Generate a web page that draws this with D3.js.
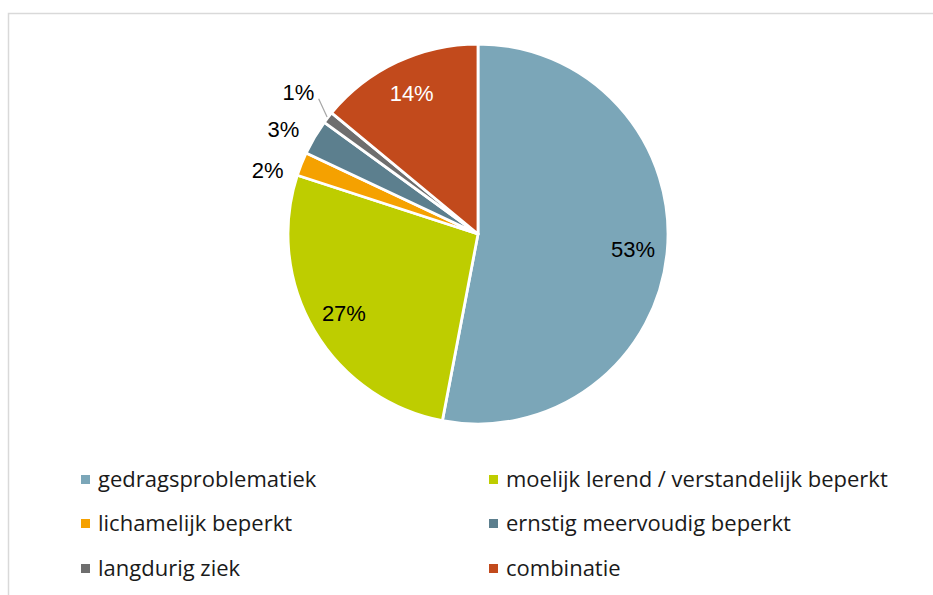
<!DOCTYPE html>
<html>
<head>
<meta charset="utf-8">
<script src="https://cdn.jsdelivr.net/npm/d3@7"></script>
<style>
  html, body { margin: 0; padding: 0; background: #fff; }
  svg { display: block; }
</style>
</head>
<body>
<script>
// Data
const categories = [
  "gedragsproblematiek",
  "moelijk lerend / verstandelijk beperkt",
  "lichamelijk beperkt",
  "ernstig meervoudig beperkt",
  "langdurig ziek",
  "combinatie"
];
const values = [53, 27, 2, 3, 1, 14];
const colors = ["#7BA6B8", "#BECD00", "#F5A100", "#5C7F8E", "#6E6E6E", "#C24A1C"];
// where each label goes: inside the slice or outside
const labelPlace = ["in", "in", "out", "out", "out-line", "in"];

const width = 933, height = 595;
const cx = 478, cy = 234, radius = 190;

const svg = d3.select("body").append("svg")
  .attr("width", width)
  .attr("height", height);

// chart area frame (runs off the right and bottom)
svg.append("rect")
  .attr("x", 8.5).attr("y", 13.5)
  .attr("width", 940).attr("height", 600)
  .attr("fill", "none")
  .attr("stroke", "#D9D9D9")
  .attr("stroke-width", 1.5);

const data = categories.map((name, i) => ({ name, value: values[i], color: colors[i], place: labelPlace[i] }));

const pie = d3.pie().value(d => d.value).sort(null);
const arcs = pie(data);
const arc = d3.arc().innerRadius(0).outerRadius(radius);

const g = svg.append("g").attr("transform", `translate(${cx},${cy})`);

g.selectAll("path")
  .data(arcs)
  .join("path")
  .attr("d", arc)
  .attr("fill", d => d.data.color)
  .attr("stroke", "#fff")
  .attr("stroke-width", 2.8)
  .attr("stroke-linejoin", "round");

function pointAt(a, r) {
  return [Math.sin(a) * r, -Math.cos(a) * r];
}

// leader line for the tiny slice
arcs.filter(d => d.data.place === "out-line").forEach(d => {
  const mid = (d.startAngle + d.endAngle) / 2;
  const p0 = pointAt(mid, radius + 1);
  const p1 = pointAt(mid + 0.044, radius + 19);
  g.append("line")
    .attr("x1", p0[0]).attr("y1", p0[1])
    .attr("x2", p1[0]).attr("y2", p1[1])
    .attr("stroke", "#A6A6A6")
    .attr("stroke-width", 1.2);
});

// label offsets (angle shift, radius) for the outside labels
const outPos = {
  "lichamelijk beperkt": [-0.08, 220],
  "ernstig meervoudig beperkt": [-0.04, 221],
  "langdurig ziek": [0.01, 229]
};

g.selectAll("text.lbl")
  .data(arcs)
  .join("text")
  .attr("class", "lbl")
  .attr("transform", d => {
    const mid = (d.startAngle + d.endAngle) / 2;
    let a = mid, r = radius * 0.82;
    if (outPos[d.data.name]) {
      a = mid + outPos[d.data.name][0];
      r = outPos[d.data.name][1];
    }
    const p = pointAt(a, r);
    return `translate(${p[0]},${p[1]})`;
  })
  .attr("text-anchor", "middle")
  .attr("dy", "0.36em")
  .attr("font-family", "Liberation Sans, Arial, sans-serif")
  .attr("font-size", 22)
  .attr("fill", d => d.data.name === "combinatie" ? "#fff" : "#000")
  .text(d => d.value + "%");

// legend: two columns, three rows
const legendX = [81, 489];
const legendY = [479, 523, 568];
const legend = svg.append("g");
data.forEach((d, i) => {
  const x = legendX[i % 2], y = legendY[Math.floor(i / 2)];
  legend.append("rect")
    .attr("x", x).attr("y", y - 4)
    .attr("width", 9).attr("height", 9)
    .attr("fill", d.color);
  legend.append("text")
    .attr("x", x + 17).attr("y", y)
    .attr("dy", "0.35em")
    .attr("font-family", "Open Sans, sans-serif")
    .attr("font-size", 22)
    .attr("fill", "#1a1a1a")
    .text(d.name);
});
</script>
</body>
</html>
